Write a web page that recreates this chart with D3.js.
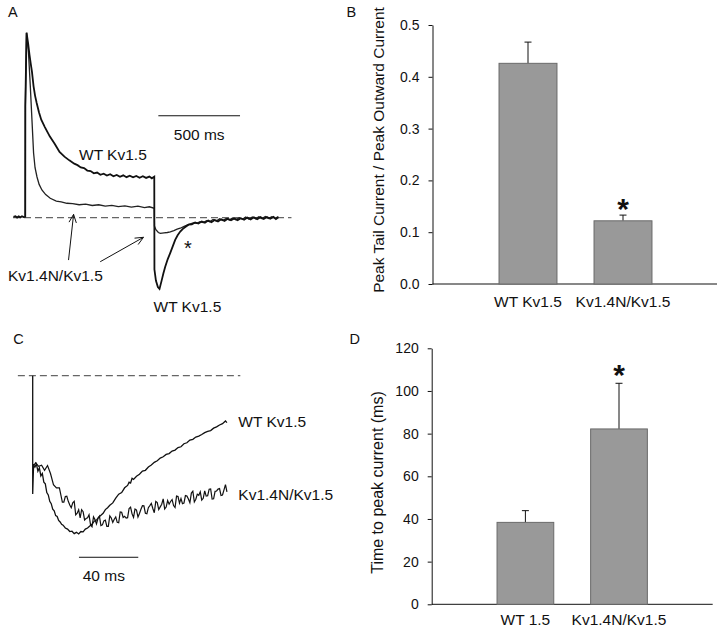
<!DOCTYPE html>
<html><head><meta charset="utf-8">
<script src="https://cdn.jsdelivr.net/npm/d3@7/dist/d3.min.js"></script>
<style>
body{margin:0;background:#fff;}
svg text{font-family:"Liberation Sans",Arial,Helvetica,sans-serif;fill:#111;}
</style></head><body>
<svg id="fig" width="720" height="630"></svg>
<script>
// ---------- Panel A: current traces (t in ms from pulse onset, current normalised to peak) ----------
const traceA_WT = [
 [-72,0.004],[-60,0.008],[-50,0.001],[-40,0.007],[-30,0.002],[-20,0.008],[-10,0.003],[0,0.005],
 [0.5,0.6],[8,1.0],[18,0.94],[26,0.88],[34,0.83],[41,0.79],[51,0.71],[60,0.66],[70,0.62],[84,0.57],
 [98,0.53],[120,0.49],[150,0.44],[180,0.40],[210,0.355],[240,0.33],[270,0.31],[300,0.292],[320,0.284],
 [340,0.272],[360,0.268],[380,0.255],[400,0.252],[420,0.240],[440,0.244],[460,0.232],[480,0.238],
 [500,0.228],[520,0.235],[540,0.224],[560,0.231],[580,0.221],[600,0.229],[620,0.219],[640,0.227],
 [660,0.218],[680,0.226],[700,0.216],[720,0.224],[740,0.215],[760,0.222],[775,0.213],[790,0.222],
 [791,-0.28],[800,-0.34],[812,-0.375],[822,-0.385],[835,-0.34],[846,-0.30],[857,-0.265],[872,-0.225],
 [888,-0.19],[903,-0.155],[918,-0.12],[933,-0.095],[949,-0.075],[965,-0.06],[980,-0.05],[1000,-0.038],
 [1020,-0.036],[1040,-0.026],[1060,-0.032],[1080,-0.02],[1100,-0.027],[1120,-0.015],[1140,-0.024],
 [1160,-0.012],[1180,-0.02],[1200,-0.008],[1220,-0.017],[1240,-0.006],[1260,-0.014],[1280,-0.004],
 [1300,-0.013],[1320,-0.003],[1340,-0.011],[1360,0.001],[1380,-0.009],[1400,0.002],[1420,-0.008],
 [1440,0.003],[1460,-0.007],[1480,0.004],[1500,-0.006],[1520,0.004],[1535,-0.008],[1550,0.002]
];
const traceA_Kv14N = [
 [0,0.005],[0.5,0.6],[8,1.0],[20,0.89],[31,0.71],[41,0.53],[51,0.35],[60,0.27],[72,0.22],[85,0.18],
 [102,0.15],[125,0.125],[153,0.105],[190,0.09],[220,0.085],[255,0.078],[290,0.076],[330,0.07],
 [370,0.073],[410,0.066],[450,0.07],[490,0.063],[530,0.067],[570,0.06],[610,0.064],[650,0.057],
 [690,0.062],[730,0.055],[760,0.059],[790,0.051],[791,-0.045],[800,-0.065],[815,-0.08],[827,-0.085],
 [850,-0.082],[870,-0.08],[888,-0.076],[910,-0.07],[930,-0.062],[949,-0.057],[970,-0.048],[990,-0.04],
 [1010,-0.034],[1030,-0.028],[1050,-0.03],[1070,-0.022],[1090,-0.026],[1110,-0.016],[1130,-0.022],
 [1150,-0.01],[1170,-0.018],[1190,-0.006],[1210,-0.015],[1230,-0.004],[1250,-0.012],[1270,-0.002],
 [1290,-0.011],[1310,0.0],[1330,-0.009],[1350,0.003],[1370,-0.008],[1390,0.004],[1410,-0.006],
 [1430,0.005],[1450,-0.005],[1470,0.006],[1490,-0.004],[1510,0.005],[1530,-0.003],[1550,0.006]
];
const scaleBarA = [815, 1315];   // 500 ms
// ---------- Panel B ----------
const catsB = ["WT Kv1.5", "Kv1.4N/Kv1.5"];
const meansB = [0.426, 0.122];
const errB = [0.041, 0.011];
const ticksB = [0, 0.1, 0.2, 0.3, 0.4, 0.5];
const sigB = [false, true];
// ---------- Panel C: tail currents (t in ms, normalised) ----------
const traceC_WT = [
 [0,0],[0,-0.744],[0.6,-0.56],[1.5,-0.575],[2.5,-0.555],[3.5,-0.6],[4.5,-0.58],[5.5,-0.63],[6.5,-0.615],
 [7.5,-0.67],[8.5,-0.68],[9.5,-0.735],[10.5,-0.75],[11.5,-0.79],[12.5,-0.805],[13.5,-0.84],[14.5,-0.85],
 [15.5,-0.88],[16.5,-0.885],[17.5,-0.91],[18.5,-0.92],[19.5,-0.935],[20.5,-0.94],[22,-0.958],[23.5,-0.965],
 [25,-0.98],[26.5,-0.978],[28,-0.993],[29.5,-0.985],[31,-0.995],[32.5,-0.98],[34,-0.982],[35.5,-0.965],
 [37,-0.958],[38.5,-0.945],[40,-0.935],[41.5,-0.915],[43,-0.908],[44.5,-0.89],[46,-0.878],[47.5,-0.865],
 [49,-0.842],[50.5,-0.83],[52,-0.815],[54,-0.8],[56,-0.77],[58,-0.745],[60,-0.735],[62,-0.705],[64,-0.69],
 [65,-0.67],[66,-0.675],[67,-0.645],[68,-0.652],[70,-0.632],[72,-0.62],[74,-0.6],[76,-0.595],[78,-0.574],
 [80,-0.562],[82,-0.545],[84,-0.535],[86,-0.518],[88,-0.51],[90,-0.495],[92,-0.49],[94,-0.474],[96,-0.468],
 [98,-0.452],[100,-0.447],[102,-0.428],[104,-0.422],[106,-0.405],[108,-0.4],[110,-0.386],[112,-0.38],
 [114,-0.37],[116,-0.358],[118,-0.35],[120,-0.345],[122,-0.33],[124,-0.322],[126,-0.31],[128,-0.302],
 [130,-0.285],[131,-0.295]
];
const traceC_Kv14N = [
 [0.9,-0.562],[2,-0.548],[4,-0.570],[6,-0.563],[8,-0.595],[10,-0.565],[12,-0.615],[14,-0.685],[16,-0.705],
 [18,-0.705],[20,-0.795],[21,-0.795],[22,-0.760],[23,-0.758],[24,-0.790],[25,-0.813],[26,-0.830],[27,-0.800],
 [28,-0.790],[29,-0.875],[30,-0.865],[31,-0.843],[32,-0.895],[33,-0.843],[34,-0.855],[35,-0.907],[36,-0.898],
 [37,-0.894],[38,-0.875],[39,-0.938],[40,-0.950],[41,-0.888],[42,-0.905],[43,-0.932],[44,-0.898],[45,-0.883],
 [46,-0.943],[47,-0.938],[48,-0.913],[49,-0.908],[50,-0.948],[51,-0.948],[52,-0.882],[53,-0.895],[54,-0.923],
 [55,-0.903],[56,-0.888],[57,-0.922],[58,-0.925],[59,-0.857],[60,-0.859],[61,-0.892],[62,-0.884],[63,-0.896],
 [64,-0.893],[65,-0.835],[66,-0.827],[67,-0.869],[68,-0.891],[69,-0.838],[70,-0.845],[71,-0.889],[72,-0.867],
 [73,-0.840],[74,-0.818],[75,-0.819],[76,-0.865],[77,-0.868],[78,-0.830],[79,-0.817],[80,-0.803],[81,-0.835],
 [82,-0.862],[83,-0.790],[84,-0.798],[85,-0.842],[86,-0.825],[87,-0.808],[88,-0.775],[89,-0.838],[90,-0.826],
 [91,-0.785],[92,-0.808],[93,-0.791],[94,-0.779],[95,-0.817],[96,-0.829],[97,-0.757],[98,-0.760],[99,-0.802],
 [100,-0.773],[101,-0.805],[102,-0.801],[103,-0.754],[104,-0.756],[105,-0.775],[106,-0.799],[107,-0.738],
 [108,-0.726],[109,-0.794],[110,-0.777],[111,-0.745],[112,-0.752],[113,-0.730],[114,-0.782],[115,-0.771],
 [116,-0.724],[117,-0.757],[118,-0.755],[119,-0.714],[120,-0.712],[121,-0.776],[122,-0.774],[123,-0.727],
 [124,-0.725],[125,-0.713],[126,-0.710],[127,-0.753],[128,-0.750],[129,-0.718],[130,-0.685],[131,-0.730]
];
const scaleBarC = [31.2, 71.2];  // 40 ms
// ---------- Panel D ----------
const catsD = ["WT 1.5", "Kv1.4N/Kv1.5"];
const meansD = [38.4, 82.2];
const errD = [5.5, 21.4];
const ticksD = [0, 20, 40, 60, 80, 100, 120];
const sigD = [false, true];

const svg = d3.select("#fig");
const INK = "#111";

function label(x, y, txt, size, anchor, extra) {
  const t = svg.append("text").attr("x", x).attr("y", y).attr("font-size", size)
    .attr("text-anchor", anchor || "start").text(txt);
  if (extra) extra(t);
  return t;
}

// ================= Panel A =================
const xA = d3.scaleLinear().domain([-75, 1550]).range([13, 278.4]);
const yA = d3.scaleLinear().domain([-0.4, 1]).range([291.7, 32.7]);
const lineA = d3.line().x(d => xA(d[0])).y(d => yA(d[1]));

svg.append("line").attr("x1", xA(-75)).attr("x2", xA(1630)).attr("y1", yA(0)).attr("y2", yA(0))
  .attr("stroke", "#666").attr("stroke-width", 1.2).attr("stroke-dasharray", "7,4");
svg.append("path").attr("d", lineA(traceA_Kv14N)).attr("fill", "none").attr("stroke", "#222").attr("stroke-width", 1.3);
svg.append("path").attr("d", lineA(traceA_WT)).attr("fill", "none").attr("stroke", INK).attr("stroke-width", 1.8);

svg.append("line").attr("x1", xA(scaleBarA[0])).attr("x2", xA(scaleBarA[1])).attr("y1", yA(0.551)).attr("y2", yA(0.551))
  .attr("stroke", INK).attr("stroke-width", 1);
label((xA(scaleBarA[0]) + xA(scaleBarA[1])) / 2, 140, "500 ms", 15.5, "middle");
label(79, 160, "WT Kv1.5", 15.5);
label(8, 281, "Kv1.4N/Kv1.5", 15.5);
label(153.5, 312, "WT Kv1.5", 15.5);
label(188, 255, "*", 20, "middle");

// arrows (tail point -> head point, in data units)
const arrowsA = [[[265, -0.229], [296, 0.018]], [[459, -0.238], [724, -0.106]]];
arrowsA.forEach(([a, b]) => {
  const x1 = xA(a[0]), y1 = yA(a[1]), x2 = xA(b[0]), y2 = yA(b[1]);
  svg.append("line").attr("x1", x1).attr("y1", y1).attr("x2", x2).attr("y2", y2).attr("stroke", INK).attr("stroke-width", 1);
  const ang = Math.atan2(y2 - y1, x2 - x1), L = 9, w = 0.42;
  const p = d3.path();
  p.moveTo(x2 - L * Math.cos(ang - w), y2 - L * Math.sin(ang - w));
  p.lineTo(x2, y2);
  p.lineTo(x2 - L * Math.cos(ang + w), y2 - L * Math.sin(ang + w));
  svg.append("path").attr("d", p.toString()).attr("fill", "none").attr("stroke", INK).attr("stroke-width", 1);
});

// ================= Bar chart helper =================
function barPanel(o) {
  const x = d3.scaleBand().domain(o.cats).range(o.xr).paddingInner(o.pi).paddingOuter(o.po);
  const y = d3.scaleLinear().domain(o.dom).range(o.yr);
  const g = svg.append("g");
  const ax = g.append("g").attr("transform", `translate(${o.axisX},0)`)
    .call(d3.axisLeft(y).tickValues(o.ticks).tickFormat(o.fmt).tickSize(4).tickSizeOuter(0).tickPadding(9));
  ax.select(".domain").attr("stroke", INK);
  ax.selectAll(".tick line").attr("stroke", INK);
  ax.selectAll(".tick text").attr("font-size", o.tickSize).attr("fill", INK)
    .attr("font-family", '"Liberation Sans",Arial,sans-serif');
  g.append("line").attr("x1", o.axisX).attr("x2", o.xEnd).attr("y1", y(0)).attr("y2", y(0)).attr("stroke", INK);
  o.cats.forEach((c, i) => {
    const bx = x(c), bw = x.bandwidth(), cx = bx + bw / 2;
    g.append("line").attr("x1", cx).attr("x2", cx).attr("y1", y(o.means[i])).attr("y2", y(o.means[i] + o.errs[i]))
      .attr("stroke", INK).attr("stroke-width", 1);
    g.append("line").attr("x1", cx - 3.5).attr("x2", cx + 3.5).attr("y1", y(o.means[i] + o.errs[i])).attr("y2", y(o.means[i] + o.errs[i]))
      .attr("stroke", INK).attr("stroke-width", 1);
    g.append("rect").attr("x", bx).attr("width", bw).attr("y", y(o.means[i])).attr("height", y(0) - y(o.means[i]))
      .attr("fill", "#999").attr("stroke", "#6a6a6a").attr("stroke-width", 1);
    label(cx, o.catY, c, 15.5, "middle");
    if (o.sig[i]) label(cx, o.starY, "*", 30, "middle", t => t.attr("font-weight", "bold"));
  });
  label(0, 0, o.ylab, o.ylabSize, "middle",
    t => t.attr("transform", `translate(${o.ylabX},${o.ylabY}) rotate(-90)`));
}

barPanel({cats: catsB, means: meansB, errs: errB, ticks: ticksB, fmt: d3.format(".1f"), sig: sigB,
  xr: [433, 718], pi: 0.39, po: 0.695, dom: [0, 0.5], yr: [284, 25], axisX: 432.5, xEnd: 717,
  tickSize: 14, catY: 307, starY: 219,
  ylab: "Peak Tail Current / Peak Outward Current", ylabSize: 15.5, ylabX: 384, ylabY: 150});

barPanel({cats: catsD, means: meansD, errs: errD, ticks: ticksD, fmt: d3.format("d"), sig: sigD,
  xr: [431.7, 712.7], pi: 0.394, po: 0.698, dom: [0, 120], yr: [604.3, 348.3], axisX: 431.7, xEnd: 712.7,
  tickSize: 14, catY: 625, starY: 385,
  ylab: "Time to peak current (ms)", ylabSize: 16, ylabX: 383, ylabY: 482.5});

// ================= Panel C =================
const xC = d3.scaleLinear().domain([-10, 140]).range([17.87, 240.3]);
const yC = d3.scaleLinear().domain([0, -1]).range([375.7, 534.7]);
const lineC = d3.line().x(d => xC(d[0])).y(d => yC(d[1]));
svg.append("line").attr("x1", xC(-10)).attr("x2", xC(140)).attr("y1", yC(0)).attr("y2", yC(0))
  .attr("stroke", "#666").attr("stroke-width", 1.2).attr("stroke-dasharray", "7,4");
svg.append("path").attr("d", lineC(traceC_Kv14N)).attr("fill", "none").attr("stroke", INK).attr("stroke-width", 1.2);
svg.append("path").attr("d", lineC(traceC_WT)).attr("fill", "none").attr("stroke", INK).attr("stroke-width", 1.3);
svg.append("line").attr("x1", xC(scaleBarC[0])).attr("x2", xC(scaleBarC[1])).attr("y1", yC(-1.142)).attr("y2", yC(-1.142))
  .attr("stroke", INK).attr("stroke-width", 1);
label(82.7, 580.5, "40 ms", 15.5);
label(238.3, 427.3, "WT Kv1.5", 15.5);
label(238.3, 500, "Kv1.4N/Kv1.5", 15.5);

// ================= Panel letters =================
label(8, 16.7, "A", 14.5);
label(346.5, 16.5, "B", 14.5);
label(13.3, 343.5, "C", 14.5);
label(349.5, 343.5, "D", 14.5);
</script>
</body></html>
